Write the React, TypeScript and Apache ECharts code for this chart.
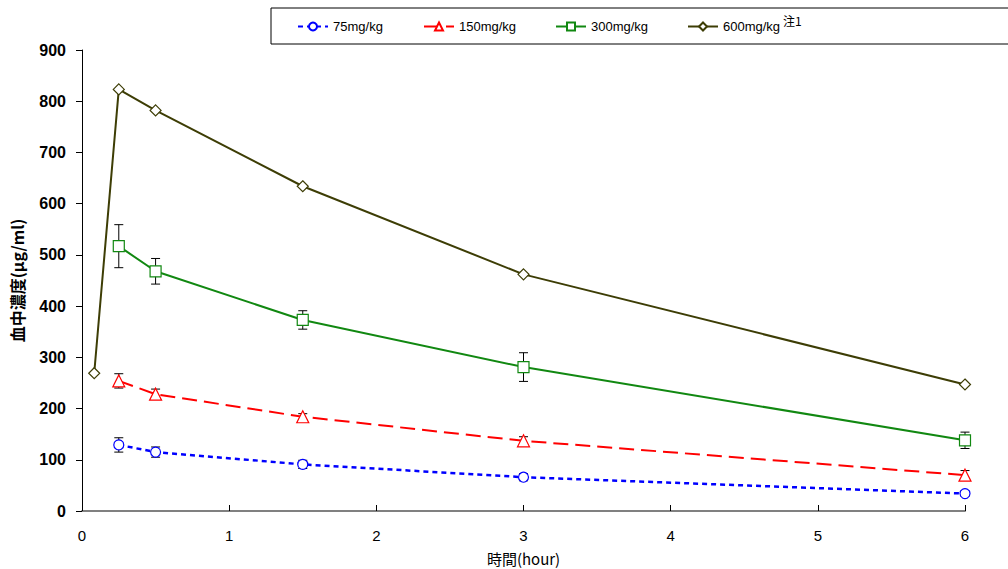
import React, { useEffect, useRef } from "react";
import * as echarts from "echarts";

const timesMain = [0.25, 0.5, 1.5, 3, 6];
const times600 = [0.083, 0.25, 0.5, 1.5, 3, 6];

const mean75 = [129, 115, 91, 66, 34];
const sd75 = [14, 10, 8, 7, 5];
const mean150 = [254, 228, 184, 137, 70];
const sd150 = [14, 10, 6, 8, 9];
const mean300 = [517, 468, 373, 281, 138];
const sd300 = [42, 25, 18, 28, 16];
const mean600 = [269, 823, 782, 634, 462, 247];

const seriesNames = ["75mg/kg", "150mg/kg", "300mg/kg", "600mg/kg"];
const yTicks = [0, 100, 200, 300, 400, 500, 600, 700, 800, 900];
const xTicks = [0, 1, 2, 3, 4, 5, 6];

const toPairs = (xs: number[], ys: number[]) => xs.map((x, i) => [x, ys[i]]);
const toErr = (xs: number[], ys: number[], sd: number[]) =>
  xs.map((x, i) => [x, ys[i] - sd[i], ys[i] + sd[i]]);

export default function App() {
  const ref = useRef<HTMLDivElement>(null);
  useEffect(() => {
    const chart = echarts.init(ref.current!, null, { renderer: "svg" });
    const errRender = (params: any, api: any) => {
      const x = api.value(0);
      const lo = api.coord([x, api.value(1)]);
      const hi = api.coord([x, api.value(2)]);
      const w = 4.5;
      const style = { stroke: "#000", lineWidth: 1 };
      return {
        type: "group",
        children: [
          { type: "line", shape: { x1: lo[0], y1: lo[1], x2: hi[0], y2: hi[1] }, style },
          { type: "line", shape: { x1: lo[0] - w, y1: lo[1], x2: lo[0] + w, y2: lo[1] }, style },
          { type: "line", shape: { x1: hi[0] - w, y1: hi[1], x2: hi[0] + w, y2: hi[1] }, style },
        ],
      };
    };
    const colors = ["#0000FF", "#FF0000", "#118811", "#3d3d05"];
    const legendLefts = [297, 423, 555, 687];
    const font = "'Liberation Sans', Arial, sans-serif";
    const mkLine = (name: string, data: any[], color: string, symbol: string, size: number, type: any, width: number, z: number) => ({
      name,
      type: "line",
      data,
      symbol,
      symbolSize: size,
      showSymbol: true,
      z,
      lineStyle: { color, width, type },
      itemStyle: { color: "#fff", borderColor: color, borderWidth: 1.2 },
    });
    chart.setOption({
      animation: false,
      backgroundColor: "#fff",
      grid: { left: 82, right: 43, top: 50, bottom: 58, outerBoundsMode: "none", containLabel: false },
      legend: seriesNames.map((n, i) => ({
        data: [n],
        left: legendLefts[i],
        top: 20,
        itemWidth: 30,
        itemHeight: 10,
        itemGap: 5,
        padding: 0,
        textStyle: { fontSize: 13, color: "#000", fontFamily: font },
      })),
      graphic: [
        {
          type: "rect",
          shape: { x: 271, y: 8, width: 740, height: 36 },
          style: { fill: "none", stroke: "#000", lineWidth: 1 },
          z: -1,
        },
        {
          type: "text",
          x: 783,
          y: 14,
          style: { text: "注1", fontSize: 12, fill: "#000", fontFamily: "'Noto Sans CJK JP', sans-serif" },
        },
      ],
      xAxis: {
        type: "value",
        min: 0,
        max: 6,
        interval: 1,
        name: "時間(hour)",
        nameLocation: "middle",
        nameGap: 40,
        nameTextStyle: { fontSize: 15, color: "#000", fontFamily: "'Noto Sans CJK JP', sans-serif" },
        axisLine: { show: true, onZero: false, lineStyle: { color: "#808080", width: 2 } },
        axisTick: { show: true, inside: true, length: 6, lineStyle: { color: "#000" } },
        axisLabel: {
          margin: 17,
          fontSize: 15,
          color: "#000",
          fontFamily: font,
          formatter: (v: number) => (xTicks.includes(v) ? String(v) : ""),
        },
        splitLine: { show: false },
      },
      yAxis: {
        type: "value",
        min: 0,
        max: 900,
        interval: 100,
        name: "血中濃度(μg/ml)",
        nameLocation: "middle",
        nameGap: 57,
        nameRotate: 90,
        nameTextStyle: { fontSize: 16, fontWeight: "bold", color: "#000", fontFamily: "'Noto Sans CJK JP', sans-serif" },
        axisLine: { show: true, lineStyle: { color: "#000", width: 1 } },
        axisTick: { show: true, inside: false, length: 6, lineStyle: { color: "#000" } },
        axisLabel: {
          margin: 16,
          fontSize: 16,
          fontWeight: "bold",
          color: "#000",
          fontFamily: font,
          formatter: (v: number) => (yTicks.includes(v) ? String(v) : ""),
        },
        splitLine: { show: false },
      },
      series: [
        { type: "custom", renderItem: errRender, data: toErr(timesMain, mean75, sd75), encode: { x: 0, y: [1, 2] }, z: 1, silent: true },
        { type: "custom", renderItem: errRender, data: toErr(timesMain, mean150, sd150), encode: { x: 0, y: [1, 2] }, z: 1, silent: true },
        { type: "custom", renderItem: errRender, data: toErr(timesMain, mean300, sd300), encode: { x: 0, y: [1, 2] }, z: 1, silent: true },
        mkLine(seriesNames[0], toPairs(timesMain, mean75), colors[0], "circle", 10, [5, 4], 2.5, 5),
        mkLine(seriesNames[1], toPairs(timesMain, mean150), colors[1], "triangle", 12, [15, 7], 2, 5),
        mkLine(seriesNames[2], toPairs(timesMain, mean300), colors[2], "rect", 11, "solid", 2, 5),
        mkLine(seriesNames[3], toPairs(times600, mean600), colors[3], "diamond", 11, "solid", 2, 5),
      ],
    });
    return () => chart.dispose();
  }, []);
  return <div ref={ref} style={{ width: 1008, height: 569, position: "absolute", left: 0, top: 0 }} />;
}
